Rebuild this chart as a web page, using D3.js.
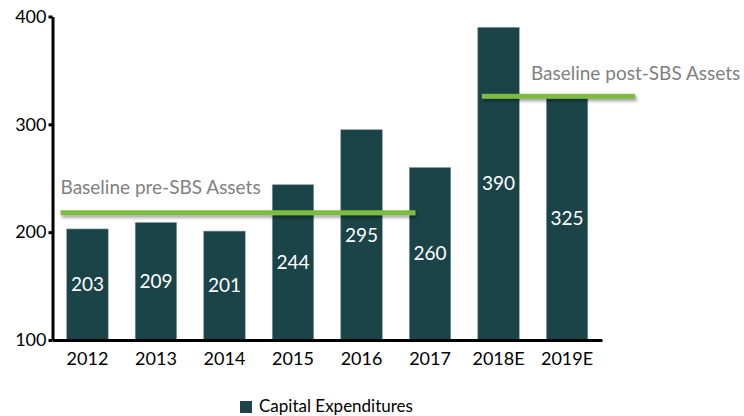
<!DOCTYPE html>
<html lang="en">
<head>
	<meta charset="UTF-8">
	<script src="https://cdn.jsdelivr.net/npm/d3@7"></script>
	<title>Capital Expenditures</title>
	<style>
		body {
			margin: 0;
			background: white;
			font-family: Lato, "Open Sans", sans-serif;
		}

		svg {
			display: block;
		}
	</style>
</head>
<body>
	<script>
		// chart data
		const years = ["2012", "2013", "2014", "2015", "2016", "2017", "2018E", "2019E"]
		const capex = [203, 209, 201, 244, 295, 260, 390, 325]
		const yTicks = [100, 200, 300, 400]
		// baselines: value, start and end in bar-index units
		const baselineNames = ["Baseline pre-SBS Assets", "Baseline post-SBS Assets"]
		const baselineValues = [218, 326]
		const baselineFrom = [-0.09, 6.06]
		const baselineTo = [5.09, 8.3]
		const legendLabel = "Capital Expenditures"

		const width = 744, height = 416
		const barColor = "#1a4447"
		const green = "#7dbb42"

		const svg = d3.select("body").append("svg")
			.attr("width", width)
			.attr("height", height)

		// soft shadow under the baseline bars
		const filter = svg.append("defs").append("filter")
			.attr("id", "shadow")
			.attr("filterUnits", "userSpaceOnUse")
			.attr("x", 0).attr("y", 0)
			.attr("width", width).attr("height", height)
		filter.append("feDropShadow")
			.attr("dx", 1.5).attr("dy", 2.5)
			.attr("stdDeviation", 1.8)
			.attr("flood-color", "#000")
			.attr("flood-opacity", 0.35)

		const x = d3.scaleBand()
			.domain(years)
			.range([52.5, 602])
			.paddingInner(0.394)
			.paddingOuter(0.207)

		const y = d3.scaleLinear()
			.domain([100, 400])
			.range([340, 16.5])

		// position along x in bar-index units (0 = left edge of first bar)
		const xIndex = i => x.range()[0] + x.step() * (x.paddingOuter() + i)

		/*----------------------- bars -----------------------*/
		svg.selectAll("rect.bar")
			.data(capex)
			.enter()
			.append("rect")
			.attr("class", "bar")
			.attr("x", (d, i) => x(years[i]))
			.attr("y", d => y(d))
			.attr("width", x.bandwidth())
			.attr("height", d => y(100) - y(d))
			.attr("fill", barColor)
			.attr("stroke", "#8aa3a4")
			.attr("stroke-width", 0.6)

		svg.selectAll("text.value")
			.data(capex)
			.enter()
			.append("text")
			.attr("class", "value")
			.attr("x", (d, i) => x(years[i]) + x.bandwidth() / 2)
			.attr("y", d => (y(d) + y(100)) / 2)
			.attr("dy", "0.35em")
			.attr("text-anchor", "middle")
			.attr("fill", "white")
			.style("font-size", "19px")
			.text(d => d)

		/*----------------------- axes -----------------------*/
		const yAxis = svg.append("g")
			.attr("transform", "translate(52.5,0)")
			.call(d3.axisLeft(y).tickValues(yTicks).tickSize(4).tickSizeOuter(0).tickPadding(2))
		yAxis.select(".domain").attr("stroke", "black").attr("stroke-width", 3)
		yAxis.selectAll(".tick line").attr("stroke", "black").attr("stroke-width", 3)
		yAxis.selectAll(".tick text")
			.attr("fill", "black")
			.style("font-size", "18px")
			.style("font-family", "Lato, sans-serif")

		const xAxis = svg.append("g")
			.attr("transform", "translate(0,340)")
			.call(d3.axisBottom(x).tickSize(0).tickSizeOuter(0).tickPadding(12))
		xAxis.select(".domain").attr("stroke", "black").attr("stroke-width", 3)
		xAxis.selectAll(".tick text")
			.attr("fill", "black")
			.style("font-size", "18px")
			.style("font-family", "Lato, sans-serif")

		/*--------------------- baselines --------------------*/
		svg.selectAll("rect.baseline")
			.data(baselineValues)
			.enter()
			.append("rect")
			.attr("class", "baseline")
			.attr("x", (d, i) => xIndex(baselineFrom[i]))
			.attr("width", (d, i) => xIndex(baselineTo[i]) - xIndex(baselineFrom[i]))
			.attr("y", d => y(d) - 2.5)
			.attr("height", 5)
			.attr("fill", green)
			.attr("filter", "url(#shadow)")

		svg.selectAll("text.baseline-label")
			.data(baselineNames)
			.enter()
			.append("text")
			.attr("class", "baseline-label")
			.attr("x", (d, i) => i === 0 ? xIndex(baselineFrom[i]) : xIndex(baselineFrom[i]) + 49)
			.attr("y", (d, i) => y(baselineValues[i]) - (i === 0 ? 19 : 16))
			.attr("fill", "#7f7f7f")
			.style("font-size", "19px")
			.text(d => d)

		/*----------------------- legend ---------------------*/
		const legend = svg.append("g")
			.attr("transform", "translate(240,401)")
		legend.append("rect")
			.attr("width", 12)
			.attr("height", 12)
			.attr("fill", barColor)
		legend.append("text")
			.attr("x", 19)
			.attr("y", 11)
			.attr("fill", "black")
			.style("font-size", "17px")
			.text(legendLabel)
	</script>
</body>
</html>
